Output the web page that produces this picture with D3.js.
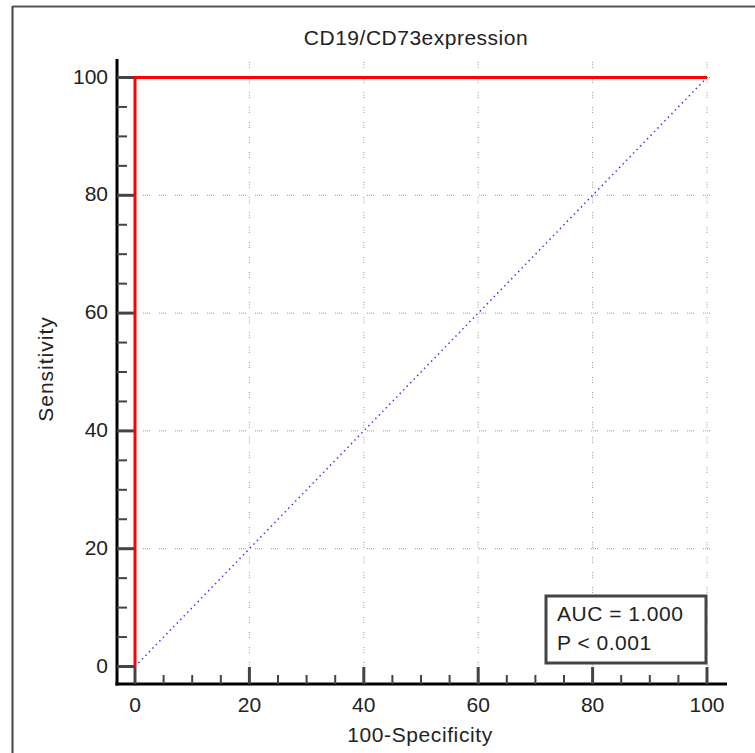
<!DOCTYPE html>
<html>
<head>
<meta charset="utf-8">
<script src="https://cdn.jsdelivr.net/npm/d3@7"></script>
<style>
  body { margin: 0; background: #fff; }
  text { font-family: "Liberation Sans", Arial, sans-serif; fill: #222; }
</style>
</head>
<body>
<div id="chart"></div>
<script>
// ROC data
var rocX = [0, 0, 100];
var rocY = [0, 100, 100];
var refX = [0, 100];
var refY = [0, 100];
var majorTicks = [0, 20, 40, 60, 80, 100];
var minorTicks = [5, 10, 15, 25, 30, 35, 45, 50, 55, 65, 70, 75, 85, 90, 95];
var gridTicks = [20, 40, 60, 80, 100];
var legendLines = ["AUC = 1.000", "P < 0.001"];

const W = 755, H = 753;
const svg = d3.select('#chart').append('svg')
  .attr('width', W).attr('height', H);

// frame (top + left only)
svg.append('line').attr('x1', 12.5).attr('x2', W).attr('y1', 6.5).attr('y2', 6.5)
  .attr('stroke', '#555').attr('stroke-width', 2);
svg.append('line').attr('x1', 12.5).attr('x2', 12.5).attr('y1', 6).attr('y2', H)
  .attr('stroke', '#444').attr('stroke-width', 2);

const x = d3.scaleLinear().domain([0, 100]).range([135, 707]);
const y = d3.scaleLinear().domain([0, 100]).range([666.5, 77.5]);
const axX = 117, axY = 684;

// grid
svg.append('g').selectAll('line').data(gridTicks).join('line')
  .attr('x1', d => x(d)).attr('x2', d => x(d))
  .attr('y1', 62).attr('y2', axY - 2)
  .attr('stroke', '#999').attr('stroke-width', 1)
  .attr('stroke-dasharray', '1,1.5,1,1.5,1,9');
svg.append('g').selectAll('line').data(gridTicks).join('line')
  .attr('x1', 143).attr('x2', 715)
  .attr('y1', d => y(d)).attr('y2', d => y(d))
  .attr('stroke', '#999').attr('stroke-width', 1)
  .attr('stroke-dasharray', '1,1,1,1,1,1,1,9');

// axes lines
svg.append('line').attr('x1', axX).attr('x2', axX).attr('y1', 59).attr('y2', axY + 1.5)
  .attr('stroke', '#000').attr('stroke-width', 3);
svg.append('line').attr('x1', axX - 1.5).attr('x2', 727).attr('y1', axY).attr('y2', axY)
  .attr('stroke', '#000').attr('stroke-width', 3);

// x ticks (inward)
svg.append('g').selectAll('line').data(majorTicks).join('line')
  .attr('x1', d => x(d)).attr('x2', d => x(d))
  .attr('y1', axY).attr('y2', axY - 17)
  .attr('stroke', '#444').attr('stroke-width', 3);
svg.append('g').selectAll('line').data(minorTicks).join('line')
  .attr('x1', d => x(d)).attr('x2', d => x(d))
  .attr('y1', axY).attr('y2', axY - 9)
  .attr('stroke', '#444').attr('stroke-width', 2);
// y ticks (inward)
svg.append('g').selectAll('line').data(majorTicks).join('line')
  .attr('x1', axX).attr('x2', axX + 18)
  .attr('y1', d => y(d)).attr('y2', d => y(d))
  .attr('stroke', '#444').attr('stroke-width', 3);
svg.append('g').selectAll('line').data(minorTicks).join('line')
  .attr('x1', axX).attr('x2', axX + 10)
  .attr('y1', d => y(d)).attr('y2', d => y(d))
  .attr('stroke', '#444').attr('stroke-width', 2);

// tick labels
svg.append('g').selectAll('text').data(majorTicks).join('text')
  .attr('x', d => x(d)).attr('y', 712)
  .attr('text-anchor', 'middle').attr('font-size', 21)
  .text(d => d);
svg.append('g').selectAll('text').data(majorTicks).join('text')
  .attr('x', 108).attr('y', d => y(d) + 6)
  .attr('text-anchor', 'end').attr('font-size', 21)
  .text(d => d);

// reference diagonal
const line = d3.line().x(d => x(d[0])).y(d => y(d[1]));
svg.append('path').datum(refX.map((v, i) => [v, refY[i]]))
  .attr('d', line).attr('fill', 'none')
  .attr('stroke', '#3a3aff').attr('stroke-width', 1.5)
  .attr('stroke-dasharray', '1.5,3.5');

// ROC curve
svg.append('path').datum(rocX.map((v, i) => [v, rocY[i]]))
  .attr('d', line).attr('fill', 'none')
  .attr('stroke', '#ff0000').attr('stroke-width', 3)
  .attr('stroke-linejoin', 'miter');

// title and axis labels
svg.append('text').attr('x', 416).attr('y', 45)
  .attr('text-anchor', 'middle').attr('font-size', 21)
  .attr('letter-spacing', 0.5)
  .text('CD19/CD73expression');
svg.append('text').attr('x', 420).attr('y', 742)
  .attr('text-anchor', 'middle').attr('font-size', 21)
  .attr('letter-spacing', 0.6)
  .text('100-Specificity');
svg.append('text')
  .attr('transform', 'translate(53,369) rotate(-90)')
  .attr('text-anchor', 'middle').attr('font-size', 21)
  .attr('letter-spacing', 1)
  .text('Sensitivity');

// AUC box
svg.append('rect').attr('x', 546).attr('y', 596)
  .attr('width', 160).attr('height', 67)
  .attr('fill', '#fff').attr('stroke', '#444').attr('stroke-width', 3);
svg.append('g').selectAll('text').data(legendLines).join('text')
  .attr('x', 557).attr('y', (d, i) => 621 + i * 29)
  .attr('font-size', 21).attr('letter-spacing', 0.5)
  .text(d => d);
</script>
</body>
</html>
